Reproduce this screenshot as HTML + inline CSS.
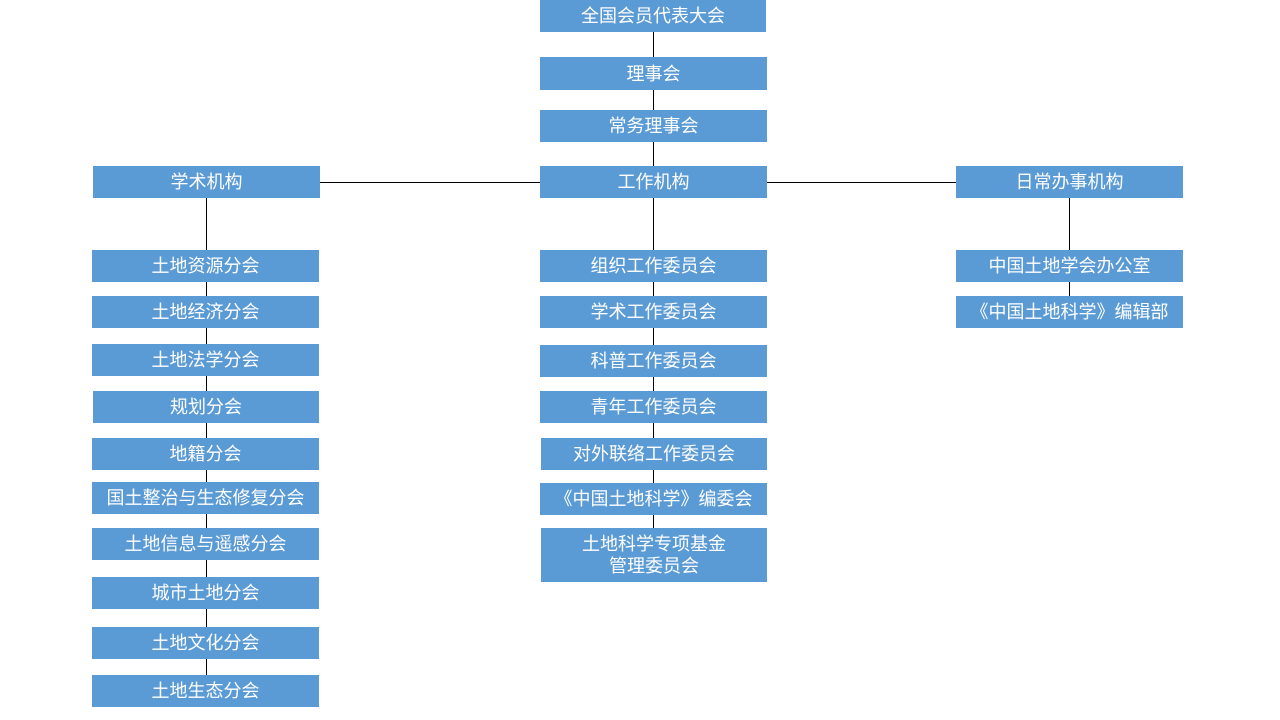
<!DOCTYPE html>
<html><head><meta charset="utf-8"><style>
body{margin:0;width:1280px;height:720px;background:#fff;position:relative;overflow:hidden;font-family:"Liberation Sans","Noto Sans CJK SC",sans-serif}
.b{position:absolute;background:#5b9bd5;color:#fff;font-size:18px;display:flex;align-items:center;justify-content:center;text-align:center;line-height:22px;width:227px;height:32px}
.l{position:absolute;background:#000}
</style></head><body>
<div class="l" style="left:653px;top:0;width:1px;height:528px"></div>
<div class="l" style="left:206px;top:198px;width:1px;height:477px"></div>
<div class="l" style="left:1069px;top:198px;width:1px;height:98px"></div>
<div class="l" style="left:320px;top:182px;width:636px;height:1px"></div>

<div class="b" style="left:540px;top:0;width:226px">全国会员代表大会</div>
<div class="b" style="left:540px;top:57px;height:33px">理事会</div>
<div class="b" style="left:540px;top:110px">常务理事会</div>
<div class="b" style="left:540px;top:166px">工作机构</div>
<div class="b" style="left:93px;top:166px">学术机构</div>
<div class="b" style="left:956px;top:166px">日常办事机构</div>

<div class="b" style="left:92px;top:250px">土地资源分会</div>
<div class="b" style="left:92px;top:296px">土地经济分会</div>
<div class="b" style="left:92px;top:344px">土地法学分会</div>
<div class="b" style="left:93px;top:391px;width:226px">规划分会</div>
<div class="b" style="left:92px;top:438px">地籍分会</div>
<div class="b" style="left:92px;top:482px">国土整治与生态修复分会</div>
<div class="b" style="left:92px;top:528px">土地信息与遥感分会</div>
<div class="b" style="left:92px;top:577px">城市土地分会</div>
<div class="b" style="left:92px;top:627px">土地文化分会</div>
<div class="b" style="left:92px;top:675px">土地生态分会</div>

<div class="b" style="left:540px;top:250px">组织工作委员会</div>
<div class="b" style="left:540px;top:296px">学术工作委员会</div>
<div class="b" style="left:540px;top:345px">科普工作委员会</div>
<div class="b" style="left:540px;top:391px">青年工作委员会</div>
<div class="b" style="left:541px;top:438px;width:226px">对外联络工作委员会</div>
<div class="b" style="left:540px;top:483px">《中国土地科学》编委会</div>
<div class="b" style="left:541px;top:528px;width:226px;height:54px">土地科学专项基金<br>管理委员会</div>

<div class="b" style="left:956px;top:250px">中国土地学会办公室</div>
<div class="b" style="left:956px;top:296px">《中国土地科学》编辑部</div>
</body></html>
